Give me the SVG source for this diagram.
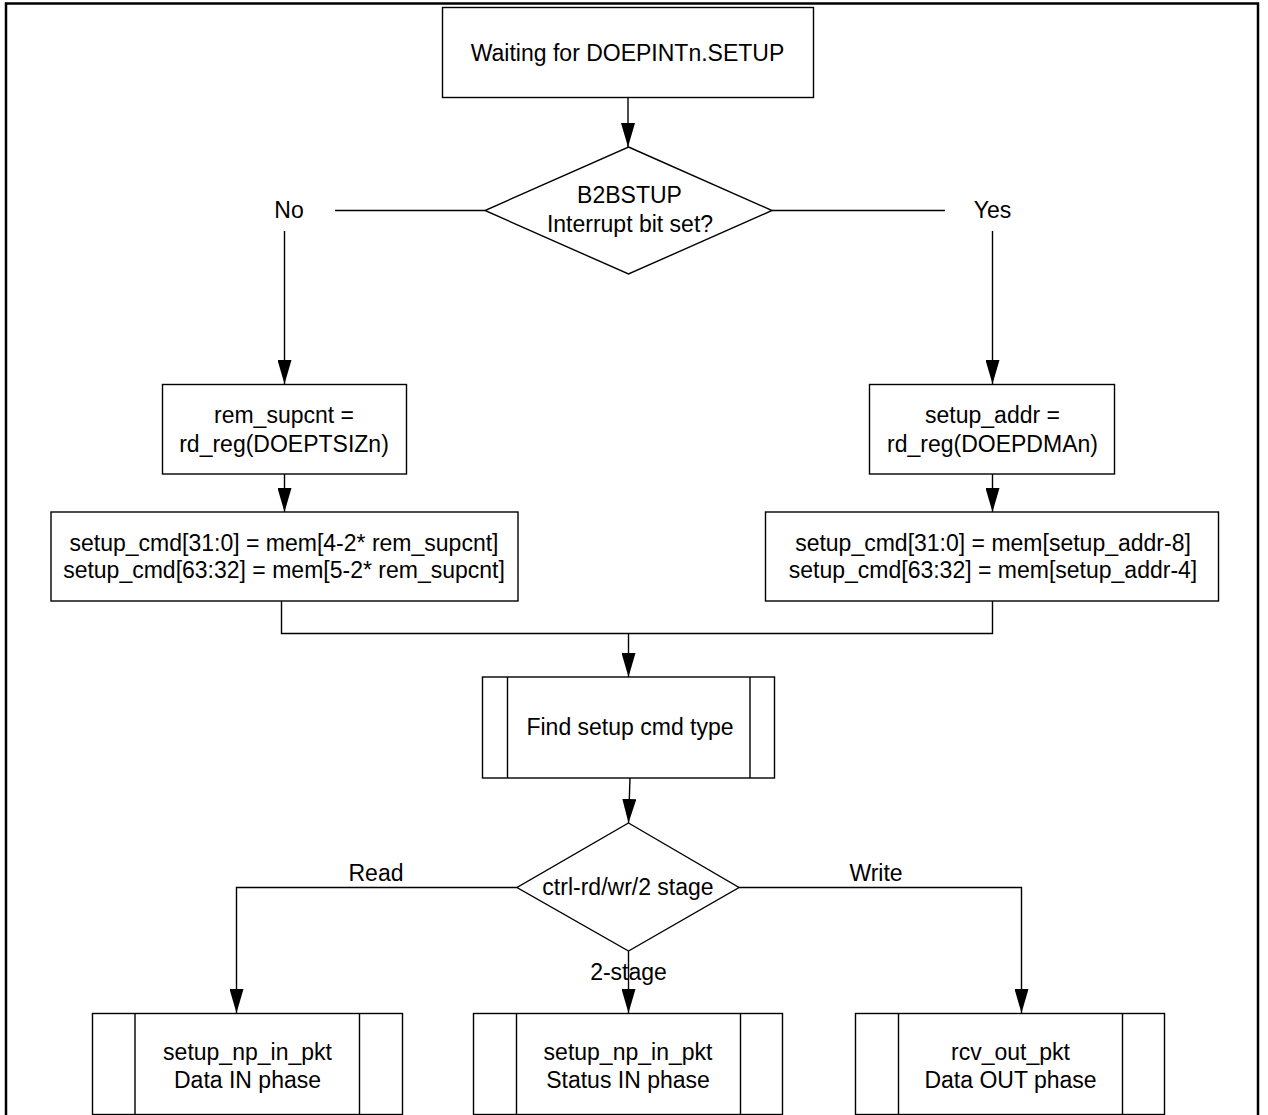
<svg xmlns="http://www.w3.org/2000/svg" width="1268" height="1115" viewBox="0 0 1268 1115">
<defs>
<style>
.box{fill:#fff;stroke:#000;stroke-width:1.4}
.ln{fill:none;stroke:#000;stroke-width:1.4}
.t{font-family:"Liberation Sans",Arial,sans-serif;font-size:23px;fill:#000;text-anchor:middle}
</style>
<marker id="arr" markerUnits="userSpaceOnUse" markerWidth="24" markerHeight="14" refX="24" refY="7" orient="auto">
<path d="M0,0 L24,7 L0,14 z" fill="#000"/>
</marker>
</defs>
<rect x="0" y="0" width="1268" height="1115" fill="#fff"/>
<rect x="6" y="3.5" width="1252" height="1140" fill="none" stroke="#000" stroke-width="2.5"/>

<g id="connectors">
<path class="ln" d="M628,97.5 V147" marker-end="url(#arr)"/>
<path class="ln" d="M485,210.5 H335"/>
<path class="ln" d="M284.5,231 V384" marker-end="url(#arr)"/>
<path class="ln" d="M772,210.5 H945"/>
<path class="ln" d="M992.5,231 V384" marker-end="url(#arr)"/>
<path class="ln" d="M284.5,474 V512" marker-end="url(#arr)"/>
<path class="ln" d="M992.5,474 V512" marker-end="url(#arr)"/>
<path class="ln" d="M281.5,601 V633.5 H992.5 V601"/>
<path class="ln" d="M628.5,633.5 V677" marker-end="url(#arr)"/>
<path class="ln" d="M630,778 L628.5,823" marker-end="url(#arr)"/>
<path class="ln" d="M517,887.5 H236.5 V1013" marker-end="url(#arr)"/>
<path class="ln" d="M739,887.5 H1021.5 V1013" marker-end="url(#arr)"/>
<path class="ln" d="M628.5,951 V1013" marker-end="url(#arr)"/>
</g>

<g id="n-wait">
<rect class="box" x="442.5" y="7.5" width="371" height="90"/>
<text class="t" x="627.5" y="61">Waiting for DOEPINTn.SETUP</text>
</g>

<g id="n-b2bstup">
<polygon class="box" points="628.5,147 772,210.5 628.5,274 485,210.5"/>
<text class="t" x="629.5" y="203">B2BSTUP</text>
<text class="t" x="630" y="232">Interrupt bit set?</text>
</g>

<g id="lbl-no"><text class="t" x="289" y="218">No</text></g>
<g id="lbl-yes"><text class="t" x="992.5" y="218">Yes</text></g>

<g id="n-remsupcnt">
<rect class="box" x="162.5" y="384.5" width="244" height="89.5"/>
<text class="t" x="284" y="423">rem_supcnt =</text>
<text class="t" x="284" y="452">rd_reg(DOEPTSIZn)</text>
</g>

<g id="n-setupaddr">
<rect class="box" x="869.5" y="384.5" width="245" height="89.5"/>
<text class="t" x="992.5" y="423">setup_addr =</text>
<text class="t" x="992.5" y="452">rd_reg(DOEPDMAn)</text>
</g>

<g id="n-cmd-left">
<rect class="box" x="51" y="512" width="467" height="89"/>
<text class="t" x="284" y="551">setup_cmd[31:0] = mem[4-2* rem_supcnt]</text>
<text class="t" x="284" y="578">setup_cmd[63:32] = mem[5-2* rem_supcnt]</text>
</g>

<g id="n-cmd-right">
<rect class="box" x="765.5" y="512" width="453" height="89"/>
<text class="t" x="993" y="551">setup_cmd[31:0] = mem[setup_addr-8]</text>
<text class="t" x="993" y="578">setup_cmd[63:32] = mem[setup_addr-4]</text>
</g>

<g id="n-find">
<rect class="box" x="482.5" y="677" width="292" height="101"/>
<path class="ln" d="M507.5,677 V778 M750,677 V778"/>
<text class="t" x="630" y="735">Find setup cmd type</text>
</g>

<g id="n-stage">
<polygon class="box" points="628.5,823 739,887.5 628.5,951 517,887.5"/>
<text class="t" x="628" y="895">ctrl-rd/wr/2 stage</text>
</g>

<g id="lbl-read"><text class="t" x="376" y="881">Read</text></g>
<g id="lbl-write"><text class="t" x="876" y="881">Write</text></g>
<g id="lbl-2stage"><text class="t" x="628.5" y="980">2-stage</text></g>

<g id="n-datain">
<rect class="box" x="92.5" y="1013.5" width="310" height="101"/>
<path class="ln" d="M135,1013.5 V1115 M359.5,1013.5 V1115"/>
<text class="t" x="247.5" y="1060">setup_np_in_pkt</text>
<text class="t" x="247.5" y="1088">Data IN phase</text>
</g>

<g id="n-statusin">
<rect class="box" x="473.5" y="1013.5" width="309" height="101"/>
<path class="ln" d="M516.5,1013.5 V1115 M740.5,1013.5 V1115"/>
<text class="t" x="628" y="1060">setup_np_in_pkt</text>
<text class="t" x="628" y="1088">Status IN phase</text>
</g>

<g id="n-dataout">
<rect class="box" x="855.5" y="1013.5" width="309" height="101"/>
<path class="ln" d="M898.5,1013.5 V1115 M1122.5,1013.5 V1115"/>
<text class="t" x="1010.5" y="1060">rcv_out_pkt</text>
<text class="t" x="1010.5" y="1088">Data OUT phase</text>
</g>
</svg>
